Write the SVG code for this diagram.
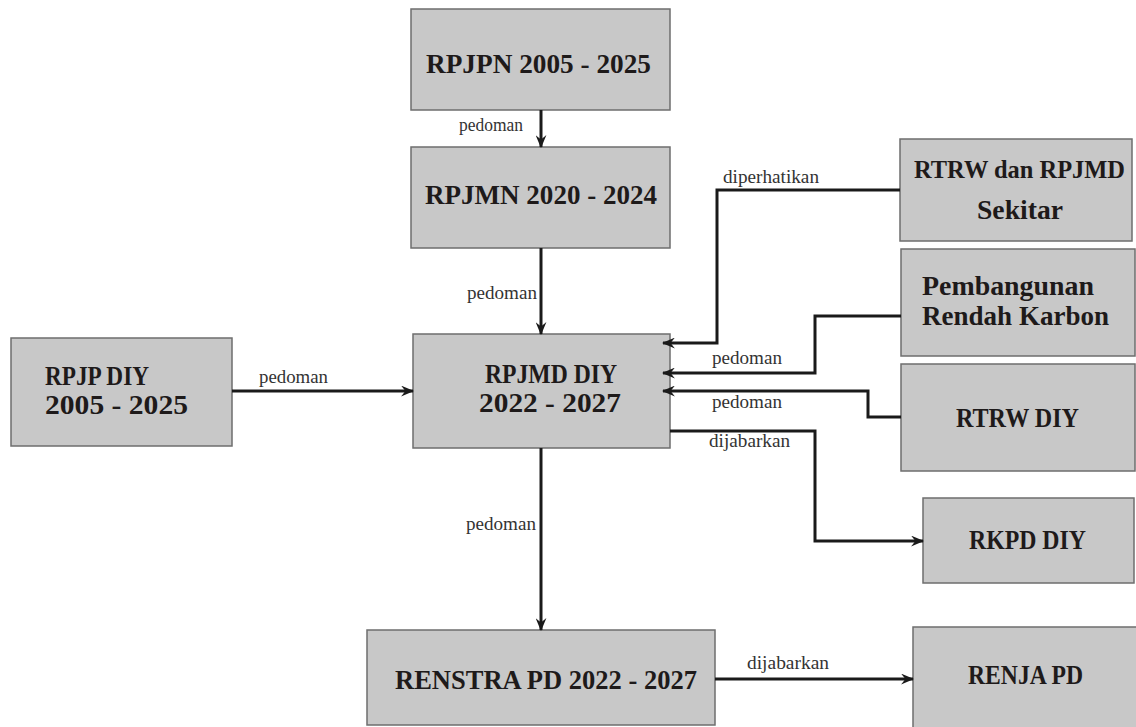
<svg xmlns="http://www.w3.org/2000/svg" width="1136" height="727" viewBox="0 0 1136 727">
  <style>
    .box { fill: #c8c8c8; stroke: #6e6e6e; stroke-width: 1.5; }
    .title { font-family: "Liberation Serif", "Times New Roman", serif; font-weight: bold; font-size: 28px; fill: #1e1a1a; }
    .lbl { font-family: "Liberation Serif", "Times New Roman", serif; font-size: 18.5px; fill: #333; }
    .conn { fill: none; stroke: #1a1a1a; stroke-width: 3; marker-end: url(#arr); }
  </style>
  <defs>
    <marker id="arr" markerUnits="userSpaceOnUse" viewBox="0 0 12 10" refX="11" refY="5" markerWidth="13" markerHeight="11" orient="auto">
      <path d="M0,0 L12,5 L0,10 L4,5 z" fill="#1a1a1a"/>
    </marker>
  </defs>
  <rect width="1136" height="727" fill="#ffffff"/>

  <g id="rpjpn">
    <rect class="box" x="411" y="9" width="259" height="101"/>
    <text class="title" x="426" y="73" textLength="225" lengthAdjust="spacingAndGlyphs">RPJPN 2005 - 2025</text>
  </g>
  <g id="rpjmn">
    <rect class="box" x="411" y="147" width="259" height="101"/>
    <text class="title" x="425" y="204" textLength="232" lengthAdjust="spacingAndGlyphs">RPJMN 2020 - 2024</text>
  </g>
  <g id="rpjp-diy">
    <rect class="box" x="11" y="338" width="221" height="108"/>
    <text class="title" x="45" y="385" textLength="104" lengthAdjust="spacingAndGlyphs">RPJP DIY</text>
    <text class="title" x="45" y="414" textLength="143" lengthAdjust="spacingAndGlyphs">2005 - 2025</text>
  </g>
  <g id="rpjmd-diy">
    <rect class="box" x="413" y="334" width="257" height="114"/>
    <text class="title" x="485" y="383" textLength="132" lengthAdjust="spacingAndGlyphs">RPJMD DIY</text>
    <text class="title" x="479" y="412" textLength="142" lengthAdjust="spacingAndGlyphs">2022 - 2027</text>
  </g>
  <g id="rtrw-rpjmd-sekitar">
    <rect class="box" x="900" y="139" width="232" height="102"/>
    <text class="title" x="914" y="178" style="font-size:25px" textLength="211" lengthAdjust="spacingAndGlyphs">RTRW dan RPJMD</text>
    <text class="title" x="977" y="219" textLength="86" lengthAdjust="spacingAndGlyphs">Sekitar</text>
  </g>
  <g id="pembangunan-rendah-karbon">
    <rect class="box" x="901" y="249" width="234" height="107"/>
    <text class="title" x="922" y="295" textLength="172" lengthAdjust="spacingAndGlyphs">Pembangunan</text>
    <text class="title" x="922" y="325" textLength="187" lengthAdjust="spacingAndGlyphs">Rendah Karbon</text>
  </g>
  <g id="rtrw-diy">
    <rect class="box" x="901" y="364" width="234" height="107"/>
    <text class="title" x="956" y="427" textLength="123" lengthAdjust="spacingAndGlyphs">RTRW DIY</text>
  </g>
  <g id="rkpd-diy">
    <rect class="box" x="923" y="498" width="211" height="85"/>
    <text class="title" x="969" y="549" textLength="117" lengthAdjust="spacingAndGlyphs">RKPD DIY</text>
  </g>
  <g id="renstra-pd">
    <rect class="box" x="367" y="630" width="348" height="95"/>
    <text class="title" x="395" y="689" textLength="302" lengthAdjust="spacingAndGlyphs">RENSTRA PD 2022 - 2027</text>
  </g>
  <g id="renja-pd">
    <rect class="box" x="913" y="627" width="230" height="110"/>
    <text class="title" x="968" y="684" textLength="115" lengthAdjust="spacingAndGlyphs">RENJA PD</text>
  </g>

  <g id="connectors">
    <path class="conn" d="M541,110 V147"/>
    <path class="conn" d="M541,248 V334"/>
    <path class="conn" d="M232,391 H413"/>
    <path class="conn" d="M900,190 H717 V343 H663"/>
    <path class="conn" d="M901,316 H815 V373 H663"/>
    <path class="conn" d="M901,417 H868 V391 H663"/>
    <path class="conn" d="M670,431 H815 V541 H923"/>
    <path class="conn" d="M541,448 V630"/>
    <path class="conn" d="M715,679 H913"/>

    <text class="lbl" x="459" y="131" textLength="64" lengthAdjust="spacingAndGlyphs">pedoman</text>
    <text class="lbl" x="467" y="299" textLength="70" lengthAdjust="spacingAndGlyphs">pedoman</text>
    <text class="lbl" x="259" y="383" textLength="69" lengthAdjust="spacingAndGlyphs">pedoman</text>
    <text class="lbl" x="723" y="183" textLength="96" lengthAdjust="spacingAndGlyphs">diperhatikan</text>
    <text class="lbl" x="712" y="364" textLength="70" lengthAdjust="spacingAndGlyphs">pedoman</text>
    <text class="lbl" x="712" y="408" textLength="70" lengthAdjust="spacingAndGlyphs">pedoman</text>
    <text class="lbl" x="709" y="447" textLength="81" lengthAdjust="spacingAndGlyphs">dijabarkan</text>
    <text class="lbl" x="466" y="530" textLength="70" lengthAdjust="spacingAndGlyphs">pedoman</text>
    <text class="lbl" x="747" y="669" textLength="82" lengthAdjust="spacingAndGlyphs">dijabarkan</text>
  </g>
</svg>
